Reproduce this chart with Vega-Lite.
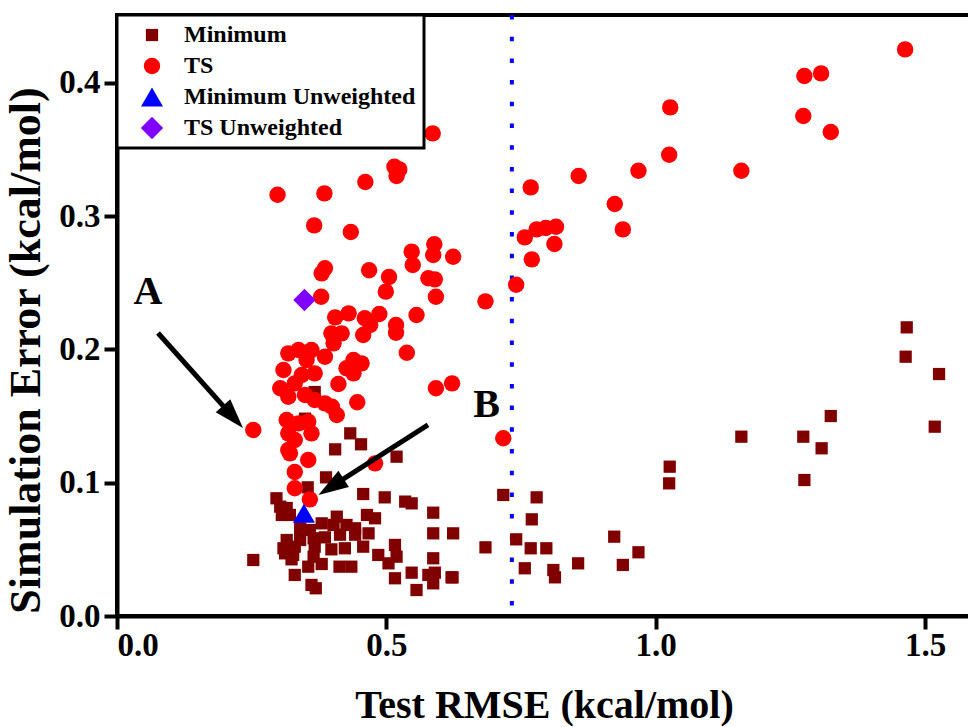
{
  "$schema": "https://vega.github.io/schema/vega-lite/v6.json",
  "width": 854,
  "height": 601,
  "autosize": {"type": "none"},
  "padding": {"left": 117, "top": 15, "right": 0, "bottom": 111},
  "background": "white",
  "config": {
    "view": {"stroke": "black", "strokeWidth": 4},
    "font": "Liberation Serif",
    "axis": {
      "domainColor": "black", "domainWidth": 4,
      "tickColor": "black", "tickWidth": 4, "tickSize": 13,
      "labelFont": "Liberation Serif", "labelFontWeight": "bold", "labelFontSize": 33, "labelColor": "black",
      "titleFont": "Liberation Serif", "titleFontWeight": "bold", "titleFontSize": 40, "titleColor": "black",
      "grid": false
    }
  },
  "datasets": {
    "points": [
      {"series":"Minimum","rmse":0.349,"error":0.148},{"series":"Minimum","rmse":0.367,"error":0.168},{"series":"Minimum","rmse":0.433,"error":0.137},{"series":"Minimum","rmse":0.453,"error":0.1288},{"series":"Minimum","rmse":0.405,"error":0.125},{"series":"Minimum","rmse":0.519,"error":0.1195},{"series":"Minimum","rmse":0.388,"error":0.104},{"series":"Minimum","rmse":0.354,"error":0.0965},{"series":"Minimum","rmse":0.296,"error":0.0883},{"series":"Minimum","rmse":0.457,"error":0.0915},{"series":"Minimum","rmse":0.497,"error":0.089},{"series":"Minimum","rmse":0.535,"error":0.0858},{"series":"Minimum","rmse":0.547,"error":0.0845},{"series":"Minimum","rmse":0.587,"error":0.0775},{"series":"Minimum","rmse":0.303,"error":0.082},{"series":"Minimum","rmse":0.315,"error":0.081},{"series":"Minimum","rmse":0.321,"error":0.0758},{"series":"Minimum","rmse":0.306,"error":0.0758},{"series":"Minimum","rmse":0.408,"error":0.0745},{"series":"Minimum","rmse":0.464,"error":0.0758},{"series":"Minimum","rmse":0.479,"error":0.0733},{"series":"Minimum","rmse":0.38,"error":0.0695},{"series":"Minimum","rmse":0.402,"error":0.0683},{"series":"Minimum","rmse":0.426,"error":0.0683},{"series":"Minimum","rmse":0.442,"error":0.0658},{"series":"Minimum","rmse":0.34,"error":0.0658},{"series":"Minimum","rmse":0.358,"error":0.0645},{"series":"Minimum","rmse":0.467,"error":0.062},{"series":"Minimum","rmse":0.587,"error":0.062},{"series":"Minimum","rmse":0.624,"error":0.062},{"series":"Minimum","rmse":0.315,"error":0.057},{"series":"Minimum","rmse":0.34,"error":0.057},{"series":"Minimum","rmse":0.365,"error":0.0583},{"series":"Minimum","rmse":0.386,"error":0.059},{"series":"Minimum","rmse":0.414,"error":0.061},{"series":"Minimum","rmse":0.442,"error":0.061},{"series":"Minimum","rmse":0.309,"error":0.0508},{"series":"Minimum","rmse":0.33,"error":0.052},{"series":"Minimum","rmse":0.367,"error":0.052},{"series":"Minimum","rmse":0.398,"error":0.05},{"series":"Minimum","rmse":0.423,"error":0.0508},{"series":"Minimum","rmse":0.457,"error":0.052},{"series":"Minimum","rmse":0.516,"error":0.0533},{"series":"Minimum","rmse":0.312,"error":0.047},{"series":"Minimum","rmse":0.327,"error":0.0458},{"series":"Minimum","rmse":0.485,"error":0.0458},{"series":"Minimum","rmse":0.519,"error":0.0445},{"series":"Minimum","rmse":0.587,"error":0.0433},{"series":"Minimum","rmse":0.253,"error":0.042},{"series":"Minimum","rmse":0.324,"error":0.0425},{"series":"Minimum","rmse":0.365,"error":0.0445},{"series":"Minimum","rmse":0.355,"error":0.037},{"series":"Minimum","rmse":0.38,"error":0.039},{"series":"Minimum","rmse":0.413,"error":0.037},{"series":"Minimum","rmse":0.435,"error":0.037},{"series":"Minimum","rmse":0.504,"error":0.0395},{"series":"Minimum","rmse":0.516,"error":0.0283},{"series":"Minimum","rmse":0.547,"error":0.0325},{"series":"Minimum","rmse":0.578,"error":0.0308},{"series":"Minimum","rmse":0.59,"error":0.0325},{"series":"Minimum","rmse":0.587,"error":0.0245},{"series":"Minimum","rmse":0.623,"error":0.029},{"series":"Minimum","rmse":0.33,"error":0.0308},{"series":"Minimum","rmse":0.361,"error":0.0233},{"series":"Minimum","rmse":0.369,"error":0.0208},{"series":"Minimum","rmse":0.556,"error":0.0195},
      {"series":"Minimum","rmse":0.717,"error":0.0908},{"series":"Minimum","rmse":0.779,"error":0.089},{"series":"Minimum","rmse":0.77,"error":0.0725},{"series":"Minimum","rmse":0.684,"error":0.0515},{"series":"Minimum","rmse":0.741,"error":0.0575},{"series":"Minimum","rmse":0.768,"error":0.0508},{"series":"Minimum","rmse":0.797,"error":0.0508},{"series":"Minimum","rmse":0.757,"error":0.0358},{"series":"Minimum","rmse":0.81,"error":0.0345},{"series":"Minimum","rmse":0.813,"error":0.029},{"series":"Minimum","rmse":0.856,"error":0.0395},{"series":"Minimum","rmse":0.621,"error":0.029},{"series":"Minimum","rmse":0.923,"error":0.0595},{"series":"Minimum","rmse":0.968,"error":0.0478},{"series":"Minimum","rmse":0.939,"error":0.0383},{"series":"Minimum","rmse":1.026,"error":0.112},{"series":"Minimum","rmse":1.025,"error":0.0995},{"series":"Minimum","rmse":1.466,"error":0.2165},{"series":"Minimum","rmse":1.464,"error":0.1945},{"series":"Minimum","rmse":1.526,"error":0.1815},{"series":"Minimum","rmse":1.325,"error":0.15},{"series":"Minimum","rmse":1.159,"error":0.1345},{"series":"Minimum","rmse":1.274,"error":0.1345},{"series":"Minimum","rmse":1.308,"error":0.1258},{"series":"Minimum","rmse":1.518,"error":0.142},{"series":"Minimum","rmse":1.276,"error":0.102},
      {"series":"TS","rmse":1.463,"error":0.425},{"series":"TS","rmse":1.276,"error":0.405},{"series":"TS","rmse":1.307,"error":0.407},{"series":"TS","rmse":1.274,"error":0.375},{"series":"TS","rmse":1.325,"error":0.363},{"series":"TS","rmse":1.159,"error":0.334},{"series":"TS","rmse":1.027,"error":0.3815},{"series":"TS","rmse":1.025,"error":0.346},{"series":"TS","rmse":0.968,"error":0.334},{"series":"TS","rmse":0.857,"error":0.33},{"series":"TS","rmse":0.924,"error":0.309},{"series":"TS","rmse":0.939,"error":0.29},{"series":"TS","rmse":0.768,"error":0.3215},{"series":"TS","rmse":0.757,"error":0.284},{"series":"TS","rmse":0.779,"error":0.29},{"series":"TS","rmse":0.796,"error":0.291},{"series":"TS","rmse":0.815,"error":0.292},{"series":"TS","rmse":0.812,"error":0.279},{"series":"TS","rmse":0.77,"error":0.2675},{"series":"TS","rmse":0.741,"error":0.2485},{"series":"TS","rmse":0.684,"error":0.236},{"series":"TS","rmse":0.624,"error":0.2695},{"series":"TS","rmse":0.717,"error":0.1333},
      {"series":"TS","rmse":0.586,"error":0.362},{"series":"TS","rmse":0.298,"error":0.316},{"series":"TS","rmse":0.385,"error":0.317},{"series":"TS","rmse":0.461,"error":0.3255},{"series":"TS","rmse":0.515,"error":0.337},{"series":"TS","rmse":0.524,"error":0.335},{"series":"TS","rmse":0.519,"error":0.33},{"series":"TS","rmse":0.366,"error":0.293},{"series":"TS","rmse":0.434,"error":0.288},{"series":"TS","rmse":0.547,"error":0.2733},{"series":"TS","rmse":0.589,"error":0.2788},{"series":"TS","rmse":0.587,"error":0.2708},{"series":"TS","rmse":0.549,"error":0.2633},{"series":"TS","rmse":0.386,"error":0.2608},{"series":"TS","rmse":0.38,"error":0.257},{"series":"TS","rmse":0.468,"error":0.2593},{"series":"TS","rmse":0.505,"error":0.2543},{"series":"TS","rmse":0.499,"error":0.2433},{"series":"TS","rmse":0.578,"error":0.2533},{"series":"TS","rmse":0.59,"error":0.2525},{"series":"TS","rmse":0.592,"error":0.2395},{"series":"TS","rmse":0.379,"error":0.2395},
      {"series":"TS","rmse":0.43,"error":0.227},{"series":"TS","rmse":0.405,"error":0.224},{"series":"TS","rmse":0.46,"error":0.2233},{"series":"TS","rmse":0.487,"error":0.2265},{"series":"TS","rmse":0.47,"error":0.2183},{"series":"TS","rmse":0.518,"error":0.2183},{"series":"TS","rmse":0.518,"error":0.2125},{"series":"TS","rmse":0.556,"error":0.2258},{"series":"TS","rmse":0.457,"error":0.2108},{"series":"TS","rmse":0.417,"error":0.212},{"series":"TS","rmse":0.398,"error":0.212},{"series":"TS","rmse":0.402,"error":0.2045},{"series":"TS","rmse":0.538,"error":0.1975},{"series":"TS","rmse":0.337,"error":0.1995},{"series":"TS","rmse":0.318,"error":0.197},{"series":"TS","rmse":0.361,"error":0.1995},{"series":"TS","rmse":0.386,"error":0.1945},{"series":"TS","rmse":0.352,"error":0.192},{"series":"TS","rmse":0.439,"error":0.192},{"series":"TS","rmse":0.454,"error":0.1895},{"series":"TS","rmse":0.426,"error":0.1858},{"series":"TS","rmse":0.439,"error":0.182},{"series":"TS","rmse":0.309,"error":0.1845},{"series":"TS","rmse":0.367,"error":0.182},{"series":"TS","rmse":0.343,"error":0.1808},{"series":"TS","rmse":0.303,"error":0.1708},{"series":"TS","rmse":0.33,"error":0.1745},{"series":"TS","rmse":0.411,"error":0.174},{"series":"TS","rmse":0.318,"error":0.1645},{"series":"TS","rmse":0.349,"error":0.1658},{"series":"TS","rmse":0.367,"error":0.162},{"series":"TS","rmse":0.386,"error":0.1595},{"series":"TS","rmse":0.399,"error":0.157},{"series":"TS","rmse":0.408,"error":0.1508},{"series":"TS","rmse":0.446,"error":0.1603},{"series":"TS","rmse":0.592,"error":0.1708},{"series":"TS","rmse":0.622,"error":0.1745},{"series":"TS","rmse":0.253,"error":0.1395},{"series":"TS","rmse":0.315,"error":0.147},{"series":"TS","rmse":0.337,"error":0.1445},{"series":"TS","rmse":0.355,"error":0.1458},{"series":"TS","rmse":0.318,"error":0.137},{"series":"TS","rmse":0.361,"error":0.137},{"series":"TS","rmse":0.33,"error":0.132},{"series":"TS","rmse":0.318,"error":0.1245},{"series":"TS","rmse":0.321,"error":0.122},{"series":"TS","rmse":0.355,"error":0.117},{"series":"TS","rmse":0.33,"error":0.108},{"series":"TS","rmse":0.479,"error":0.1145},{"series":"TS","rmse":0.33,"error":0.0958},{"series":"TS","rmse":0.358,"error":0.0875},
      {"series":"Minimum Unweighted","rmse":0.347,"error":0.077},
      {"series":"TS Unweighted","rmse":0.348,"error":0.237}
    ],
    "arrows": [
      {"label":"A","x1":0.0761,"y1":0.2123,"x2":0.2153,"y2":0.1494},
      {"label":"B","x1":0.5773,"y1":0.1433,"x2":0.3973,"y2":0.0968}
    ],
    "labels": [
      {"text":"A","rmse":0.0575,"error":0.243},
      {"text":"B","rmse":0.686,"error":0.158}
    ],
    "threshold": [
      {"rmse": 0.733}
    ]
  },
  "layer": [
    {
      "data": {"name": "threshold"},
      "mark": {"type": "rule", "color": "#0000ff", "strokeWidth": 4, "strokeDash": [4.5, 17.2]},
      "encoding": {"x": {"field": "rmse", "type": "quantitative"}}
    },
    {
      "data": {"name": "points"},
      "mark": {"type": "point", "filled": true, "opacity": 1, "strokeWidth": 0},
      "encoding": {
        "x": {"field": "rmse", "type": "quantitative",
          "scale": {"domain": [0, 1.5853], "nice": false, "zero": false},
          "axis": {"title": "Test RMSE (kcal/mol)", "values": [0, 0.5, 1, 1.5], "format": ".1f", "labelPadding": 0, "titlePadding": 23}},
        "y": {"field": "error", "type": "quantitative",
          "scale": {"domain": [0, 0.4508], "nice": false, "zero": false},
          "axis": {"title": "Simulation Error (kcal/mol)", "values": [0, 0.1, 0.2, 0.3, 0.4], "format": ".1f", "labelPadding": 4, "titlePadding": 10, "titleFontSize": 44, "titleY": 335}},
        "color": {"field": "series", "type": "nominal",
          "scale": {"domain": ["Minimum", "TS", "Minimum Unweighted", "TS Unweighted"], "range": ["#800000", "#ff0000", "#0000ff", "#7f00ff"]},
          "legend": {"title": null, "orient": "top-left", "offset": 0, "padding": 8, "rowPadding": 7,
            "symbolOffset": 15, "labelOffset": 20,
            "strokeColor": "black", "fillColor": "white",
            "labelFont": "Liberation Serif", "labelFontWeight": "bold", "labelFontSize": 24, "labelColor": "black", "labelLimit": 0,
            "symbolStrokeWidth": 0, "symbolOpacity": 1,
            "encode": {"legend": {"update": {"strokeWidth": {"value": 3}}}}}},
        "shape": {"field": "series", "type": "nominal",
          "scale": {"domain": ["Minimum", "TS", "Minimum Unweighted", "TS Unweighted"], "range": ["square", "circle", "triangle-up", "diamond"]}},
        "size": {"field": "series", "type": "nominal",
          "scale": {"type": "ordinal", "domain": ["Minimum", "TS", "Minimum Unweighted", "TS Unweighted"], "range": [150, 270, 484, 500]}}
      }
    },
    {
      "data": {"name": "arrows"},
      "mark": {"type": "rule", "color": "black", "strokeWidth": 5},
      "encoding": {
        "x": {"field": "x1", "type": "quantitative"},
        "y": {"field": "y1", "type": "quantitative"},
        "x2": {"field": "x2"},
        "y2": {"field": "y2"}
      }
    },
    {
      "data": {"name": "arrows"},
      "transform": [{"filter": "datum.label == 'A'"}],
      "mark": {"type": "point", "shape": "M0,-1L0.65,1L-0.65,1Z", "size": 900, "angle": 138.2, "filled": true, "color": "black", "opacity": 1, "strokeWidth": 0},
      "encoding": {
        "x": {"field": "x2", "type": "quantitative"},
        "y": {"field": "y2", "type": "quantitative"}
      }
    },
    {
      "data": {"name": "arrows"},
      "transform": [{"filter": "datum.label == 'B'"}],
      "mark": {"type": "point", "shape": "M0,-1L0.65,1L-0.65,1Z", "size": 900, "angle": 237.5, "filled": true, "color": "black", "opacity": 1, "strokeWidth": 0},
      "encoding": {
        "x": {"field": "x2", "type": "quantitative"},
        "y": {"field": "y2", "type": "quantitative"}
      }
    },
    {
      "data": {"name": "labels"},
      "mark": {"type": "text", "font": "Liberation Serif", "fontWeight": "bold", "fontSize": 40, "color": "black", "baseline": "middle", "align": "center"},
      "encoding": {
        "x": {"field": "rmse", "type": "quantitative"},
        "y": {"field": "error", "type": "quantitative"},
        "text": {"field": "text"}
      }
    }
  ]
}
